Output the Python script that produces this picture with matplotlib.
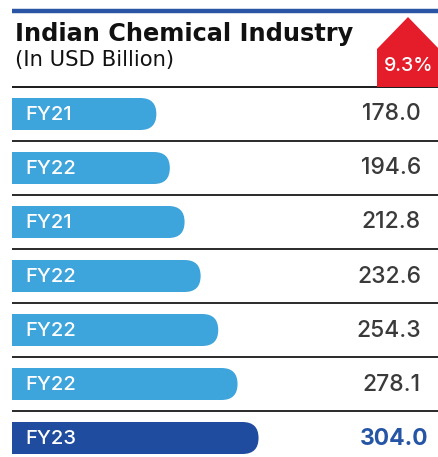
import matplotlib
matplotlib.use("Agg")
import matplotlib.pyplot as plt
from matplotlib.patches import Rectangle, FancyBboxPatch, Polygon

labels = ["FY21", "FY22", "FY21", "FY22", "FY22", "FY22", "FY23"]
values = [178.0, 194.6, 212.8, 232.6, 254.3, 278.1, 304.0]
value_text = ["178.0", "194.6", "212.8", "232.6", "254.3", "278.1", "304.0"]
title = "Indian Chemical Industry"
subtitle = "(In USD Billion)"
growth = "9.3%"

W, H = 439, 457
S = 0.811  # pixels per value unit
X0 = 12    # pixel of value 0

FONT = "Inter"
HFONT = "DejaVu Sans"
LIGHT = "#3ea4dc"
DARK = "#1f4c9e"
GRAY = "#3a3a3a"

fig = plt.figure(figsize=(W / 100, H / 100), dpi=100)
ax = fig.add_axes([0, 0, 1, 1])
ax.set_xlim(-X0 / S, (W - X0) / S)
ax.set_ylim(H / S, 0)
ax.axis("off")


def P(x, y):
    """pixel -> data"""
    return (x - X0) / S, y / S


# header lines
x1, y1 = P(12, 11)
x2, _ = P(W, 11)
ax.plot([x1, x2], [y1, y1], color="#2a55a4", lw=3.2, solid_capstyle="butt")
_, yb = P(0, 87)
ax.plot([x1, x2], [yb, yb], color="#1a1a1a", lw=1.4, solid_capstyle="butt")

# red arrow
pts = [P(377, 87), P(377, 49), P(408, 17), P(439, 49), P(439, 87)]
ax.add_patch(Polygon(pts, closed=True, facecolor="#e51c2a", edgecolor="none", zorder=2))
tx, ty = P(409, 66)
ax.text(tx, ty, growth, color="white", fontsize=14, fontfamily=FONT, fontweight="medium",
        ha="center", va="center", zorder=3)

tx, ty = P(15, 41)
ax.text(tx, ty, title, fontsize=17.3, fontfamily=HFONT, fontweight="bold", color="#111111",
        ha="left", va="baseline")
tx, ty = P(15, 66)
ax.text(tx, ty, subtitle, fontsize=15.2, fontfamily=HFONT, fontweight="normal", color="#111111",
        ha="left", va="baseline")

# bars
bh = 32 / S
r = 16 / S
for i, (lab, v, vt) in enumerate(zip(labels, values, value_text)):
    cy = (114 + 54 * i) / S
    col = DARK if i == len(values) - 1 else LIGHT
    ax.add_patch(FancyBboxPatch((0, cy - bh / 2), v, bh,
                                boxstyle=f"round,pad=0,rounding_size={r}",
                                facecolor=col, edgecolor="none", lw=0))
    ax.add_patch(Rectangle((0, cy - bh / 2), v / 2, bh, facecolor=col, edgecolor="none", lw=0))
    lx, _ = P(25, 0)
    ax.text(lx, cy + 0.5 / S, lab, color="white", fontsize=14.5, fontfamily=FONT,
            fontweight="medium", ha="left", va="center")
    vx, _ = P(421, 0)
    last = i == len(values) - 1
    ax.text(vx + (8 / S if last else 0), cy + 0.5 / S, vt,
            color="#2655a5" if last else GRAY, fontsize=16.5, fontfamily=FONT,
            fontweight="bold" if last else "medium", ha="right", va="center")
    if i < len(values) - 1:
        sy = (141 + 54 * i) / S
        ax.plot([x1, x2], [sy, sy], color="#2a2a2a", lw=1.4, solid_capstyle="butt")

fig.savefig("out.png", dpi=100)
